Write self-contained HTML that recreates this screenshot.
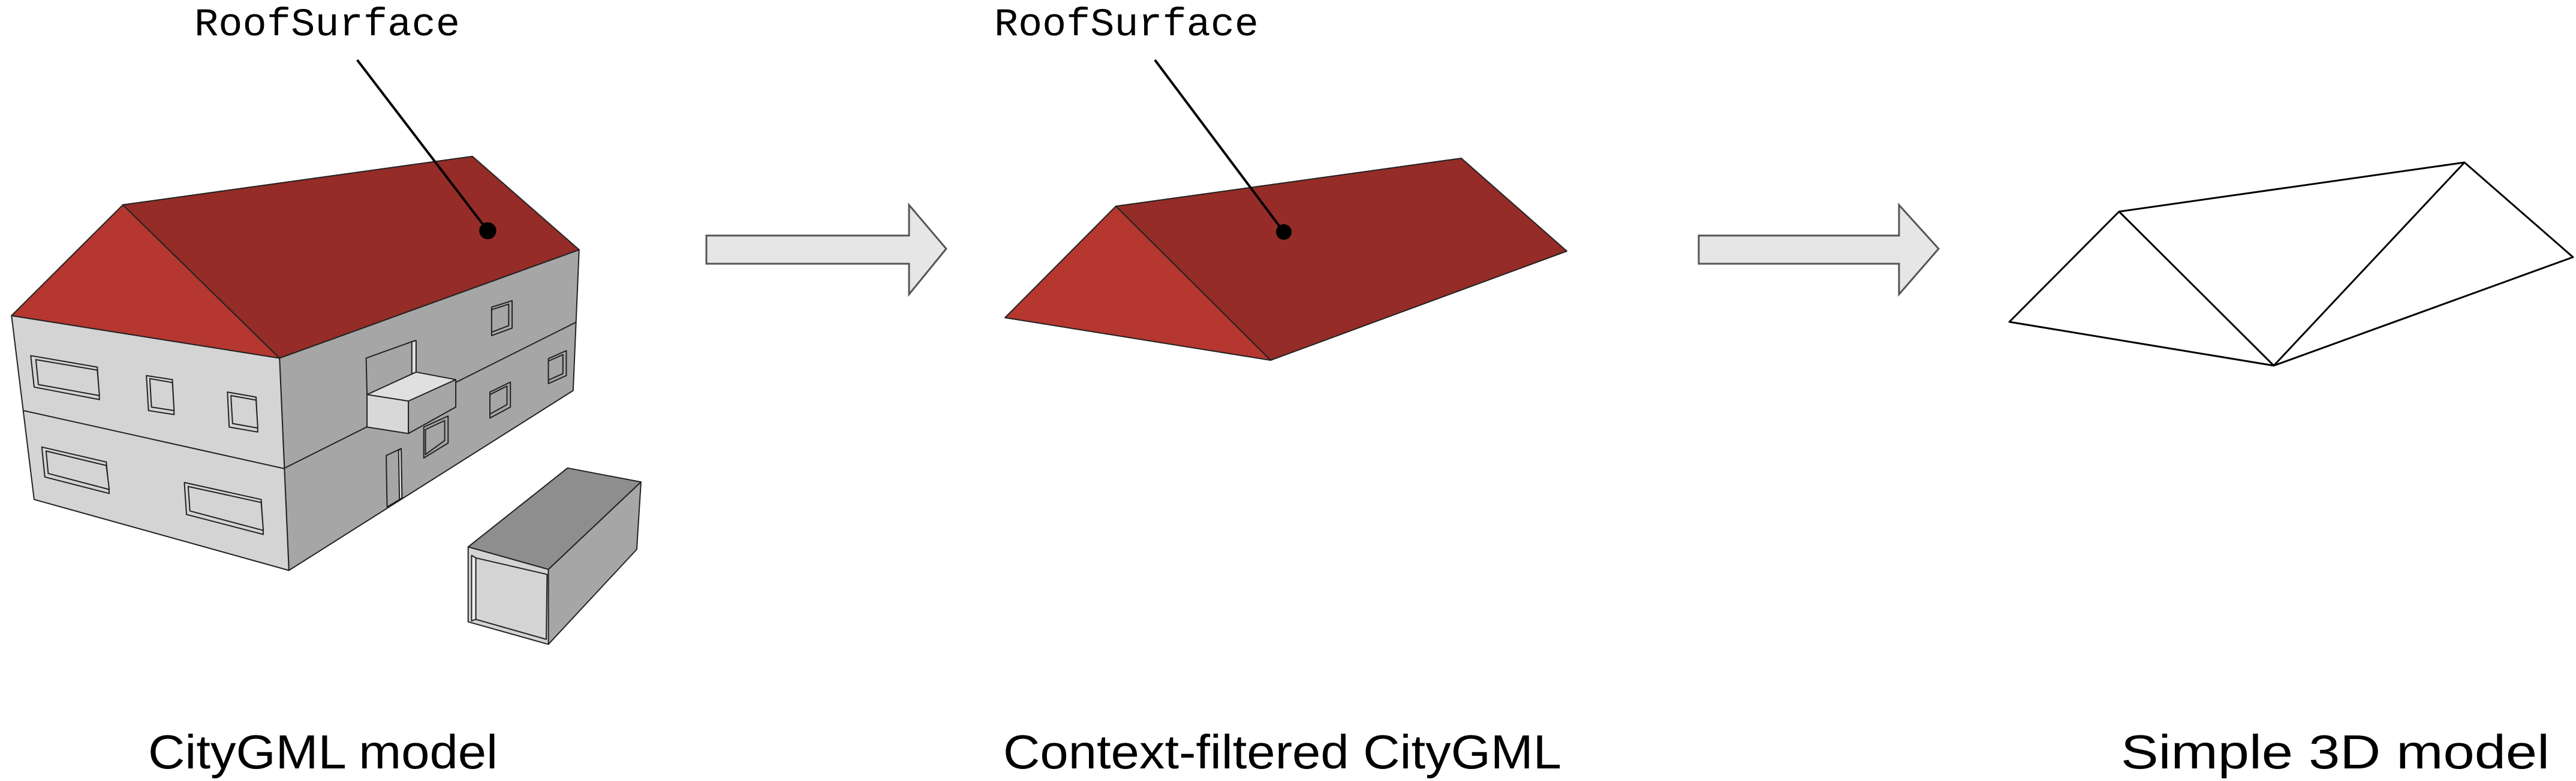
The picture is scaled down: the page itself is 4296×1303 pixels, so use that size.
<!DOCTYPE html>
<html><head><meta charset="utf-8"><style>
html,body{margin:0;padding:0;background:#fff}
svg{display:block}
</style></head><body>
<svg width="4296" height="1303" viewBox="0 0 4296 1303" xmlns="http://www.w3.org/2000/svg">
<rect width="4296" height="1303" fill="#fff"/>
<g transform="scale(0.7117,0.8333)" stroke="#222" stroke-width="2" stroke-linejoin="round">
 <g style="vector-effect:non-scaling-stroke">
  <polygon vector-effect="non-scaling-stroke" points="655,717 1357,500 1343,782 677,1142" fill="#a6a6a6"/>
  <polygon vector-effect="non-scaling-stroke" points="27,632 655,717 677,1142 80,1000" fill="#d4d4d4"/>
  <polyline vector-effect="non-scaling-stroke" points="55,822 665,938 1350,645" fill="none"/>
  <polygon vector-effect="non-scaling-stroke" points="27,632 288,410 655,717" fill="#b5372f"/>
  <polygon vector-effect="non-scaling-stroke" points="288,410 1107,313 1357,500 655,717" fill="#952c27"/>
  <g fill="#d4d4d4">
    <polygon vector-effect="non-scaling-stroke" points="72,712 228,735 233,800 80,775"/><polygon vector-effect="non-scaling-stroke" points="84,720 228,741 233,792 90,770"/>
    <polygon vector-effect="non-scaling-stroke" points="343,752 404,760 408,830 348,822"/><polygon vector-effect="non-scaling-stroke" points="351,758 404,766 408,822 355,815"/>
    <polygon vector-effect="non-scaling-stroke" points="533,785 600,795 604,865 537,855"/><polygon vector-effect="non-scaling-stroke" points="541,792 600,801 604,857 545,848"/>
    <polygon vector-effect="non-scaling-stroke" points="98,895 249,925 256,988 105,955"/><polygon vector-effect="non-scaling-stroke" points="108,903 249,932 256,980 113,948"/>
    <polygon vector-effect="non-scaling-stroke" points="432,966 612,1000 617,1070 437,1030"/><polygon vector-effect="non-scaling-stroke" points="441,974 612,1006 617,1062 445,1023"/>
  </g>
  <g fill="#a6a6a6">
    <polygon vector-effect="non-scaling-stroke" points="1152,615 1200,602 1200,657 1152,672"/><polygon vector-effect="non-scaling-stroke" points="1152,620 1192,609 1192,652 1152,665"/>
    <polygon vector-effect="non-scaling-stroke" points="1285,718 1327,702 1327,752 1285,768"/><polygon vector-effect="non-scaling-stroke" points="1285,723 1319,710 1319,748 1285,761"/>
    <polygon vector-effect="non-scaling-stroke" points="1148,785 1196,765 1196,815 1148,837"/><polygon vector-effect="non-scaling-stroke" points="1148,790 1188,773 1188,810 1148,829"/>
    <polygon vector-effect="non-scaling-stroke" points="993,855 1050,833 1050,887 993,917"/><polygon vector-effect="non-scaling-stroke" points="997,860 1042,842 1042,882 997,910"/>
  </g>
  <g>
    <polygon vector-effect="non-scaling-stroke" points="858,717 972,682 975,800 860,790" fill="#a6a6a6"/>
    <polygon vector-effect="non-scaling-stroke" points="965,684 975,682 975,800 965,800" fill="#e0e0e0"/>
    <polygon vector-effect="non-scaling-stroke" points="975,745 1068,760 957,805 860,790" fill="#e0e0e0"/>
    <polygon vector-effect="non-scaling-stroke" points="860,790 957,803 957,868 860,855" fill="#d8d8d8"/>
    <polygon vector-effect="non-scaling-stroke" points="957,803 1068,760 1068,815 957,868" fill="#a6a6a6"/>
  </g>
  <polygon vector-effect="non-scaling-stroke" points="905,912 940,898 942,997 907,1015" fill="#a6a6a6"/>
  <polygon vector-effect="non-scaling-stroke" points="934,902 940,898 942,997 936,1000" fill="#e0e0e0"/>
  <g>
    <polygon vector-effect="non-scaling-stroke" points="1097,1095 1330,937 1502,965 1285,1140" fill="#8e8e8e"/>
    <polygon vector-effect="non-scaling-stroke" points="1285,1140 1502,965 1492,1100 1285,1290" fill="#a6a6a6"/>
    <polygon vector-effect="non-scaling-stroke" points="1097,1095 1285,1140 1285,1290 1097,1245" fill="#d4d4d4"/>
    <polygon vector-effect="non-scaling-stroke" points="1115,1117 1282,1150 1280,1280 1115,1240" fill="#d4d4d4"/>
    <polygon vector-effect="non-scaling-stroke" points="1105,1112 1115,1117 1115,1240 1105,1243" fill="#eee"/>
  </g>
  <line vector-effect="non-scaling-stroke" x1="837" y1="120" x2="1143" y2="462" stroke="#000" stroke-width="4"/>
  <ellipse cx="1143" cy="462" rx="20" ry="17" fill="#000" stroke="none"/>
 </g>
</g>
<text x="324" y="59" font-family="Liberation Mono, monospace" font-size="66" textLength="443" lengthAdjust="spacingAndGlyphs">RoofSurface</text>

<polygon points="1178,393 1516,393 1516,342 1578,415 1516,491 1516,440 1178,440" fill="#e6e6e6" stroke="#555" stroke-width="3"/>

<g stroke="#222" stroke-width="2" stroke-linejoin="round">
  <polygon points="1676,530 1861,344 2119,601" fill="#b5372f"/>
  <polygon points="1861,344 2437,264 2613,419 2119,601" fill="#952c27"/>
</g>
<line x1="1926" y1="100" x2="2141" y2="387" stroke="#000" stroke-width="4"/>
<ellipse cx="2141" cy="387" rx="13" ry="13" fill="#000"/>
<text x="1658" y="59" font-family="Liberation Mono, monospace" font-size="66" textLength="441" lengthAdjust="spacingAndGlyphs">RoofSurface</text>

<polygon points="2833,393 3167,393 3167,342 3233,415 3167,491 3167,440 2833,440" fill="#e6e6e6" stroke="#555" stroke-width="3"/>

<g fill="none" stroke="#000" stroke-width="3" stroke-linejoin="round">
  <polygon points="3351,537 3534,353 4110,271 4291,429 3792,610"/>
  <line x1="3534" y1="353" x2="3792" y2="610"/>
  <line x1="4110" y1="271" x2="3792" y2="610"/>
</g>

<g font-family="Liberation Sans, Arial, sans-serif" font-size="80" fill="#000">
<text x="247" y="1282" textLength="583" lengthAdjust="spacingAndGlyphs">CityGML model</text>
<text x="1673" y="1282" textLength="931" lengthAdjust="spacingAndGlyphs">Context-filtered CityGML</text>
<text x="3537" y="1282" textLength="715" lengthAdjust="spacingAndGlyphs">Simple 3D model</text>
</g>
</svg>
</body></html>
